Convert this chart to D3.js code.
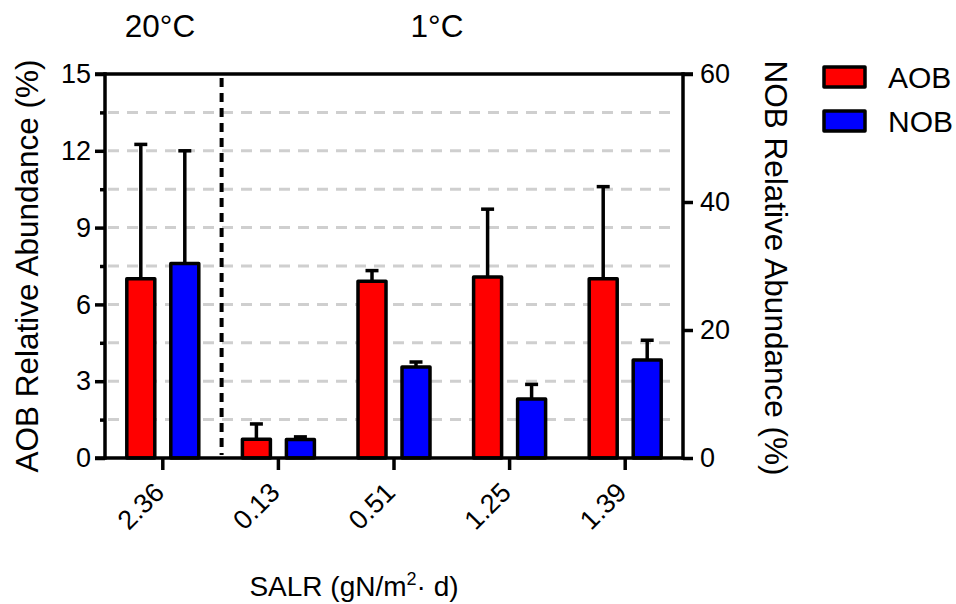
<!DOCTYPE html>
<html>
<head>
<meta charset="utf-8">
<script src="https://cdn.jsdelivr.net/npm/d3@7"></script>
<style>
  html, body { margin: 0; padding: 0; background: #fff; }
  svg { display: block; font-family: "Liberation Sans", Arial, sans-serif; }
</style>
</head>
<body>
<svg id="chart" width="956" height="604"></svg>
<script>
// ---- data ----
const categories = ["2.36", "0.13", "0.51", "1.25", "1.39"];
const series = ["AOB", "NOB"];
const aobValues = [7.0, 0.73, 6.9, 7.07, 7.0];       // left axis, %
const aobErrors = [5.25, 0.6, 0.42, 2.65, 3.6];
const nobValues = [30.4, 2.9, 14.2, 9.2, 15.3];      // right axis, %
const nobErrors = [17.6, 0.4, 0.8, 2.3, 3.1];
const leftTicks = [0, 3, 6, 9, 12, 15];
const leftMinorTicks = [1.5, 4.5, 7.5, 10.5, 13.5];
const gridValues = [1.5, 3, 4.5, 6, 7.5, 9, 10.5, 12, 13.5];
const rightTicks = [0, 20, 40, 60];
const groupLabels = [{text: "20\u00B0C", x: 160}, {text: "1\u00B0C", x: 437}];
const colors = {AOB: "#ff0000", NOB: "#0000ff"};

// ---- layout ----
const svg = d3.select("#chart");
const pLeft = 105, pRight = 683, pTop = 74, pBottom = 458;

const x = d3.scaleBand().domain(categories).range([pLeft, pRight]).paddingInner(0).paddingOuter(0);
const xSub = d3.scalePoint().domain(series).range([-22, 22]);
const yL = d3.scaleLinear().domain([0, 15]).range([pBottom, pTop]);
const yR = d3.scaleLinear().domain([0, 60]).range([pBottom, pTop]);
const barW = 28;
const lw = 3.5;

// gridlines
svg.append("g").selectAll("line").data(gridValues).join("line")
  .attr("x1", pLeft + 3).attr("x2", pRight - 10)
  .attr("y1", d => yL(d)).attr("y2", d => yL(d))
  .attr("stroke", "#cfcfcf").attr("stroke-width", 3)
  .attr("stroke-dasharray", "11,8");

// vertical dashed separator
const sepX = (x(categories[0]) + x.bandwidth() + x(categories[1])) / 2 + 1;
svg.append("line")
  .attr("x1", sepX).attr("x2", sepX)
  .attr("y1", pTop + 4).attr("y2", pBottom - 3)
  .attr("stroke", "#000").attr("stroke-width", 4)
  .attr("stroke-dasharray", "9,6");

// bars
const rows = categories.map((c, i) => [
  {cat: c, s: "AOB", v: aobValues[i], e: aobErrors[i], y: yL},
  {cat: c, s: "NOB", v: nobValues[i], e: nobErrors[i], y: yR}
]).flat();
const cx = d => x(d.cat) + x.bandwidth() / 2 + xSub(d.s);

const gBars = svg.append("g");
gBars.selectAll("line.err").data(rows).join("line").attr("class", "err")
  .attr("x1", cx).attr("x2", cx)
  .attr("y1", d => d.y(d.v)).attr("y2", d => d.y(d.v + d.e))
  .attr("stroke", "#000").attr("stroke-width", lw);
gBars.selectAll("line.cap").data(rows).join("line").attr("class", "cap")
  .attr("x1", d => cx(d) - 6.5).attr("x2", d => cx(d) + 6.5)
  .attr("y1", d => d.y(d.v + d.e)).attr("y2", d => d.y(d.v + d.e))
  .attr("stroke", "#000").attr("stroke-width", lw);
gBars.selectAll("rect").data(rows).join("rect")
  .attr("x", d => cx(d) - barW / 2)
  .attr("width", barW)
  .attr("y", d => d.y(d.v))
  .attr("height", d => pBottom - d.y(d.v))
  .attr("fill", d => colors[d.s])
  .attr("stroke", "#000").attr("stroke-width", lw)
  .attr("stroke-linejoin", "round");

// axes
const axisStyle = g => {
  g.select(".domain").remove();
  g.selectAll(".tick line").attr("stroke", "#000").attr("stroke-width", lw);
  g.selectAll(".tick text").attr("fill", "#000").attr("font-size", 27)
    .attr("font-family", "Liberation Sans, Arial, sans-serif");
};

svg.append("g").attr("transform", `translate(${pLeft},0)`)
  .call(d3.axisLeft(yL).tickValues(leftTicks).tickSize(10).tickPadding(4).tickFormat(d3.format("d")))
  .call(axisStyle);
svg.append("g").attr("transform", `translate(${pLeft},0)`)
  .call(d3.axisLeft(yL).tickValues(leftMinorTicks).tickSize(5).tickFormat(""))
  .call(axisStyle);

svg.append("g").attr("transform", `translate(${pRight},0)`)
  .call(d3.axisRight(yR).tickValues(rightTicks).tickSize(10).tickPadding(7).tickFormat(d3.format("d")))
  .call(axisStyle);

const gB = svg.append("g").attr("transform", `translate(0,${pBottom})`)
  .call(d3.axisBottom(x).tickSize(12).tickPadding(0))
  .call(axisStyle);
gB.selectAll(".tick text")
  .attr("text-anchor", "end")
  .attr("dy", 0)
  .attr("y", 0)
  .attr("transform", "translate(3,36) rotate(-45)");

// frame lines
const frame = svg.append("g").attr("stroke", "#000").attr("stroke-width", lw);
frame.append("line").attr("x1", pLeft - 10).attr("x2", pRight + 10).attr("y1", pTop).attr("y2", pTop);
frame.append("line").attr("x1", pLeft - 10).attr("x2", pRight).attr("y1", pBottom).attr("y2", pBottom);
frame.append("line").attr("x1", pLeft).attr("x2", pLeft).attr("y1", pTop - 1.75).attr("y2", pBottom + 1.75);
frame.append("line").attr("x1", pRight).attr("x2", pRight).attr("y1", pTop - 1.75).attr("y2", pBottom + 1.75);

// axis titles
svg.append("text")
  .attr("transform", `translate(38,266) rotate(-90)`)
  .attr("text-anchor", "middle").attr("font-size", 31.5).attr("fill", "#000")
  .text("AOB Relative Abundance (%)");
svg.append("text")
  .attr("transform", `translate(765,268) rotate(90)`)
  .attr("text-anchor", "middle").attr("font-size", 31.5).attr("fill", "#000")
  .text("NOB Relative Abundance (%)");
const xt = svg.append("text")
  .attr("x", 354).attr("y", 596)
  .attr("text-anchor", "middle").attr("font-size", 28).attr("fill", "#000");
xt.append("tspan").text("SALR (gN/m");
xt.append("tspan").attr("font-size", 18).attr("dy", -11).text("2");
xt.append("tspan").attr("dy", 11).text("\u00B7 d)");

// group labels
svg.append("g").selectAll("text").data(groupLabels).join("text")
  .attr("x", d => d.x).attr("y", 37)
  .attr("text-anchor", "middle").attr("font-size", 31.5).attr("fill", "#000")
  .text(d => d.text);

// legend
const lg = svg.append("g").selectAll("g").data(series).join("g")
  .attr("transform", (d, i) => `translate(824,${67 + i * 44})`);
lg.append("rect").attr("width", 41).attr("height", 20)
  .attr("fill", d => colors[d]).attr("stroke", "#000").attr("stroke-width", lw)
  .attr("stroke-linejoin", "round");
lg.append("text").attr("x", 64).attr("y", 21)
  .attr("font-size", 30).attr("fill", "#000").text(d => d);
</script>
</body>
</html>
